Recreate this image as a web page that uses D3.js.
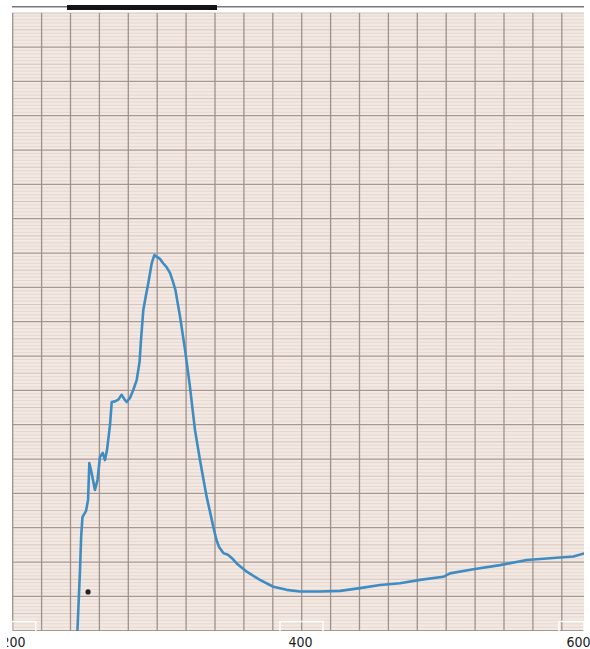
<!DOCTYPE html>
<html>
<head>
<meta charset="utf-8">
<script src="https://cdn.jsdelivr.net/npm/d3@7/dist/d3.min.js"></script>
<style>
  html, body { margin: 0; padding: 0; background: #ffffff; }
  svg { display: block; }
</style>
</head>
<body>
<svg id="chart" width="590" height="649"></svg>
<script>
// Wavelength (nm) of each recorded point of the trace
const wavelength = [
  244.9, 246.7, 247.5, 248.4, 250.9, 252.3, 253.2, 254.8, 257.1, 258.9,
  260.6, 262.5, 264.1, 265.5, 267.6, 268.8, 271.1, 273.4, 275.7, 278.0,
  279.2, 281.5, 283.8, 286.2, 288.2, 289.2, 290.8, 292.7, 294.3, 296.7,
  298.5, 300.3, 302.4, 304.5, 307.0, 309.4, 311.5, 313.2, 316.4, 319.9,
  323.3, 326.8, 330.3, 332.8, 335.0, 337.3, 339.6, 341.8, 343.6, 346.6,
  349.8, 352.4, 355.9, 362.9, 372.1, 381.4, 390.7, 400.0, 414.4, 428.8,
  443.2, 457.6, 471.9, 486.3, 503.1, 507.9, 524.7, 543.9, 563.1, 579.9,
  596.7, 604.4
];
// Absorbance read on the chart paper (0.1 per heavy ruling)
const absorbance = [
  0.000, 0.177, 0.274, 0.331, 0.349, 0.381, 0.488, 0.459, 0.410, 0.439,
  0.506, 0.518, 0.497, 0.526, 0.599, 0.666, 0.668, 0.673, 0.687, 0.672,
  0.666, 0.678, 0.701, 0.730, 0.783, 0.847, 0.934, 0.978, 1.013, 1.071,
  1.094, 1.089, 1.083, 1.071, 1.059, 1.042, 1.016, 0.992, 0.915, 0.818,
  0.711, 0.585, 0.497, 0.439, 0.389, 0.346, 0.302, 0.264, 0.244, 0.226,
  0.221, 0.212, 0.196, 0.172, 0.148, 0.128, 0.119, 0.114, 0.114, 0.116,
  0.124, 0.133, 0.138, 0.148, 0.157, 0.167, 0.179, 0.191, 0.206, 0.211,
  0.216, 0.225
];
// Wavelength labels printed under the paper
const tickLabels = [200, 400, 600];
// Pen dot left on the paper
const penDot = [{ wl: 252.3, a: 0.113 }];

const svg = d3.select("#chart");

// Paper area
const paper = { left: 12, top: 12.7, right: 584, bottom: 631 };

// Wavelength scale (the recorder's drive is slightly non-linear)
const x = d3.scaleLinear().domain([200, 400, 600]).range([13, 300, 578]);
// Absorbance scale: 18 heavy rulings of 0.1
const y = d3.scaleLinear().domain([0, 1.8]).range([630.7, 12.7]);
// Vertical chart-paper divisions
const div = d3.scaleLinear().domain([0, 20]).range([12.7, 590.7]);

const defs = svg.append("defs");
defs.append("clipPath").attr("id", "paperClip")
  .append("rect")
  .attr("x", paper.left).attr("y", paper.top)
  .attr("width", paper.right - paper.left)
  .attr("height", paper.bottom - paper.top);
defs.append("clipPath").attr("id", "labelClip")
  .append("rect").attr("x", 7).attr("y", 600).attr("width", 600).attr("height", 60);

// Top edge of the roll
svg.append("rect").attr("x", 12).attr("y", 6).attr("width", 572).attr("height", 1.5)
  .attr("fill", "#7a7676");
svg.append("rect").attr("x", 67).attr("y", 5).attr("width", 150).attr("height", 5)
  .attr("fill", "#141414");

// Paper
svg.append("rect")
  .attr("x", paper.left).attr("y", paper.top)
  .attr("width", paper.right - paper.left)
  .attr("height", paper.bottom - paper.top)
  .attr("fill", "#f3e9e2");

const grid = svg.append("g").attr("clip-path", "url(#paperClip)");

// Fine horizontal rulings
const fine = d3.range(0, 181).map(i => i / 100).filter((v, i) => i % 10 !== 0);
grid.selectAll("line.fine").data(fine).join("line")
  .attr("class", "fine")
  .attr("x1", paper.left).attr("x2", paper.right)
  .attr("y1", d => y(d)).attr("y2", d => y(d))
  .attr("stroke", (d, i) => ((i + 1) % 9 === 5 ? "#cdbcb5" : "#e1d4cd"))
  .attr("stroke-width", 0.8);

// Heavy horizontal rulings
const heavy = d3.range(0, 19).map(i => i / 10);
grid.selectAll("line.heavy").data(heavy).join("line")
  .attr("class", "heavy")
  .attr("x1", paper.left).attr("x2", paper.right)
  .attr("y1", d => y(d)).attr("y2", d => y(d))
  .attr("stroke", "#a79893")
  .attr("stroke-width", 1.2);

// Vertical rulings
grid.selectAll("line.vert").data(d3.range(0, 21)).join("line")
  .attr("class", "vert")
  .attr("x1", d => div(d)).attr("x2", d => div(d))
  .attr("y1", paper.top).attr("y2", paper.bottom)
  .attr("stroke", "#9f918c")
  .attr("stroke-width", 1.3);

// Spectrum trace
const pts = wavelength.map((w, i) => [w, absorbance[i]]);
const line = d3.line().x(d => x(d[0])).y(d => y(d[1]));
grid.append("path")
  .datum(pts)
  .attr("d", line)
  .attr("fill", "none")
  .attr("stroke", "#3f8cc2")
  .attr("stroke-width", 2.6)
  .attr("stroke-linejoin", "round")
  .attr("stroke-linecap", "round");

// Pen dot
grid.selectAll("circle.dot").data(penDot).join("circle")
  .attr("class", "dot")
  .attr("cx", d => x(d.wl)).attr("cy", d => y(d.a))
  .attr("r", 2.6).attr("fill", "#222");

// White label frames at the lower edge
const frames = [[11.7, 35.7], [280, 323], [559, 584]];
svg.selectAll("rect.frame").data(frames).join("rect")
  .attr("class", "frame")
  .attr("x", d => d[0]).attr("y", 621.5)
  .attr("width", d => d[1] - d[0]).attr("height", 12)
  .attr("fill", "none").attr("stroke", "#ffffff").attr("stroke-width", 1.4);

// Wavelength axis labels (the left margin trims the first one)
const axisWrap = svg.append("g").attr("clip-path", "url(#labelClip)");
const axis = axisWrap.append("g")
  .attr("transform", "translate(0,631)")
  .call(d3.axisBottom(x).tickValues(tickLabels).tickSize(0).tickPadding(6).tickFormat(d3.format("d")));
axis.select(".domain").remove();
axis.selectAll("text")
  .attr("fill", "#1a1a1a")
  .style("font-family", "'Liberation Sans Narrow', 'Arial Narrow', 'DejaVu Sans Condensed', sans-serif")
  .style("font-size", "14px");
</script>
</body>
</html>
